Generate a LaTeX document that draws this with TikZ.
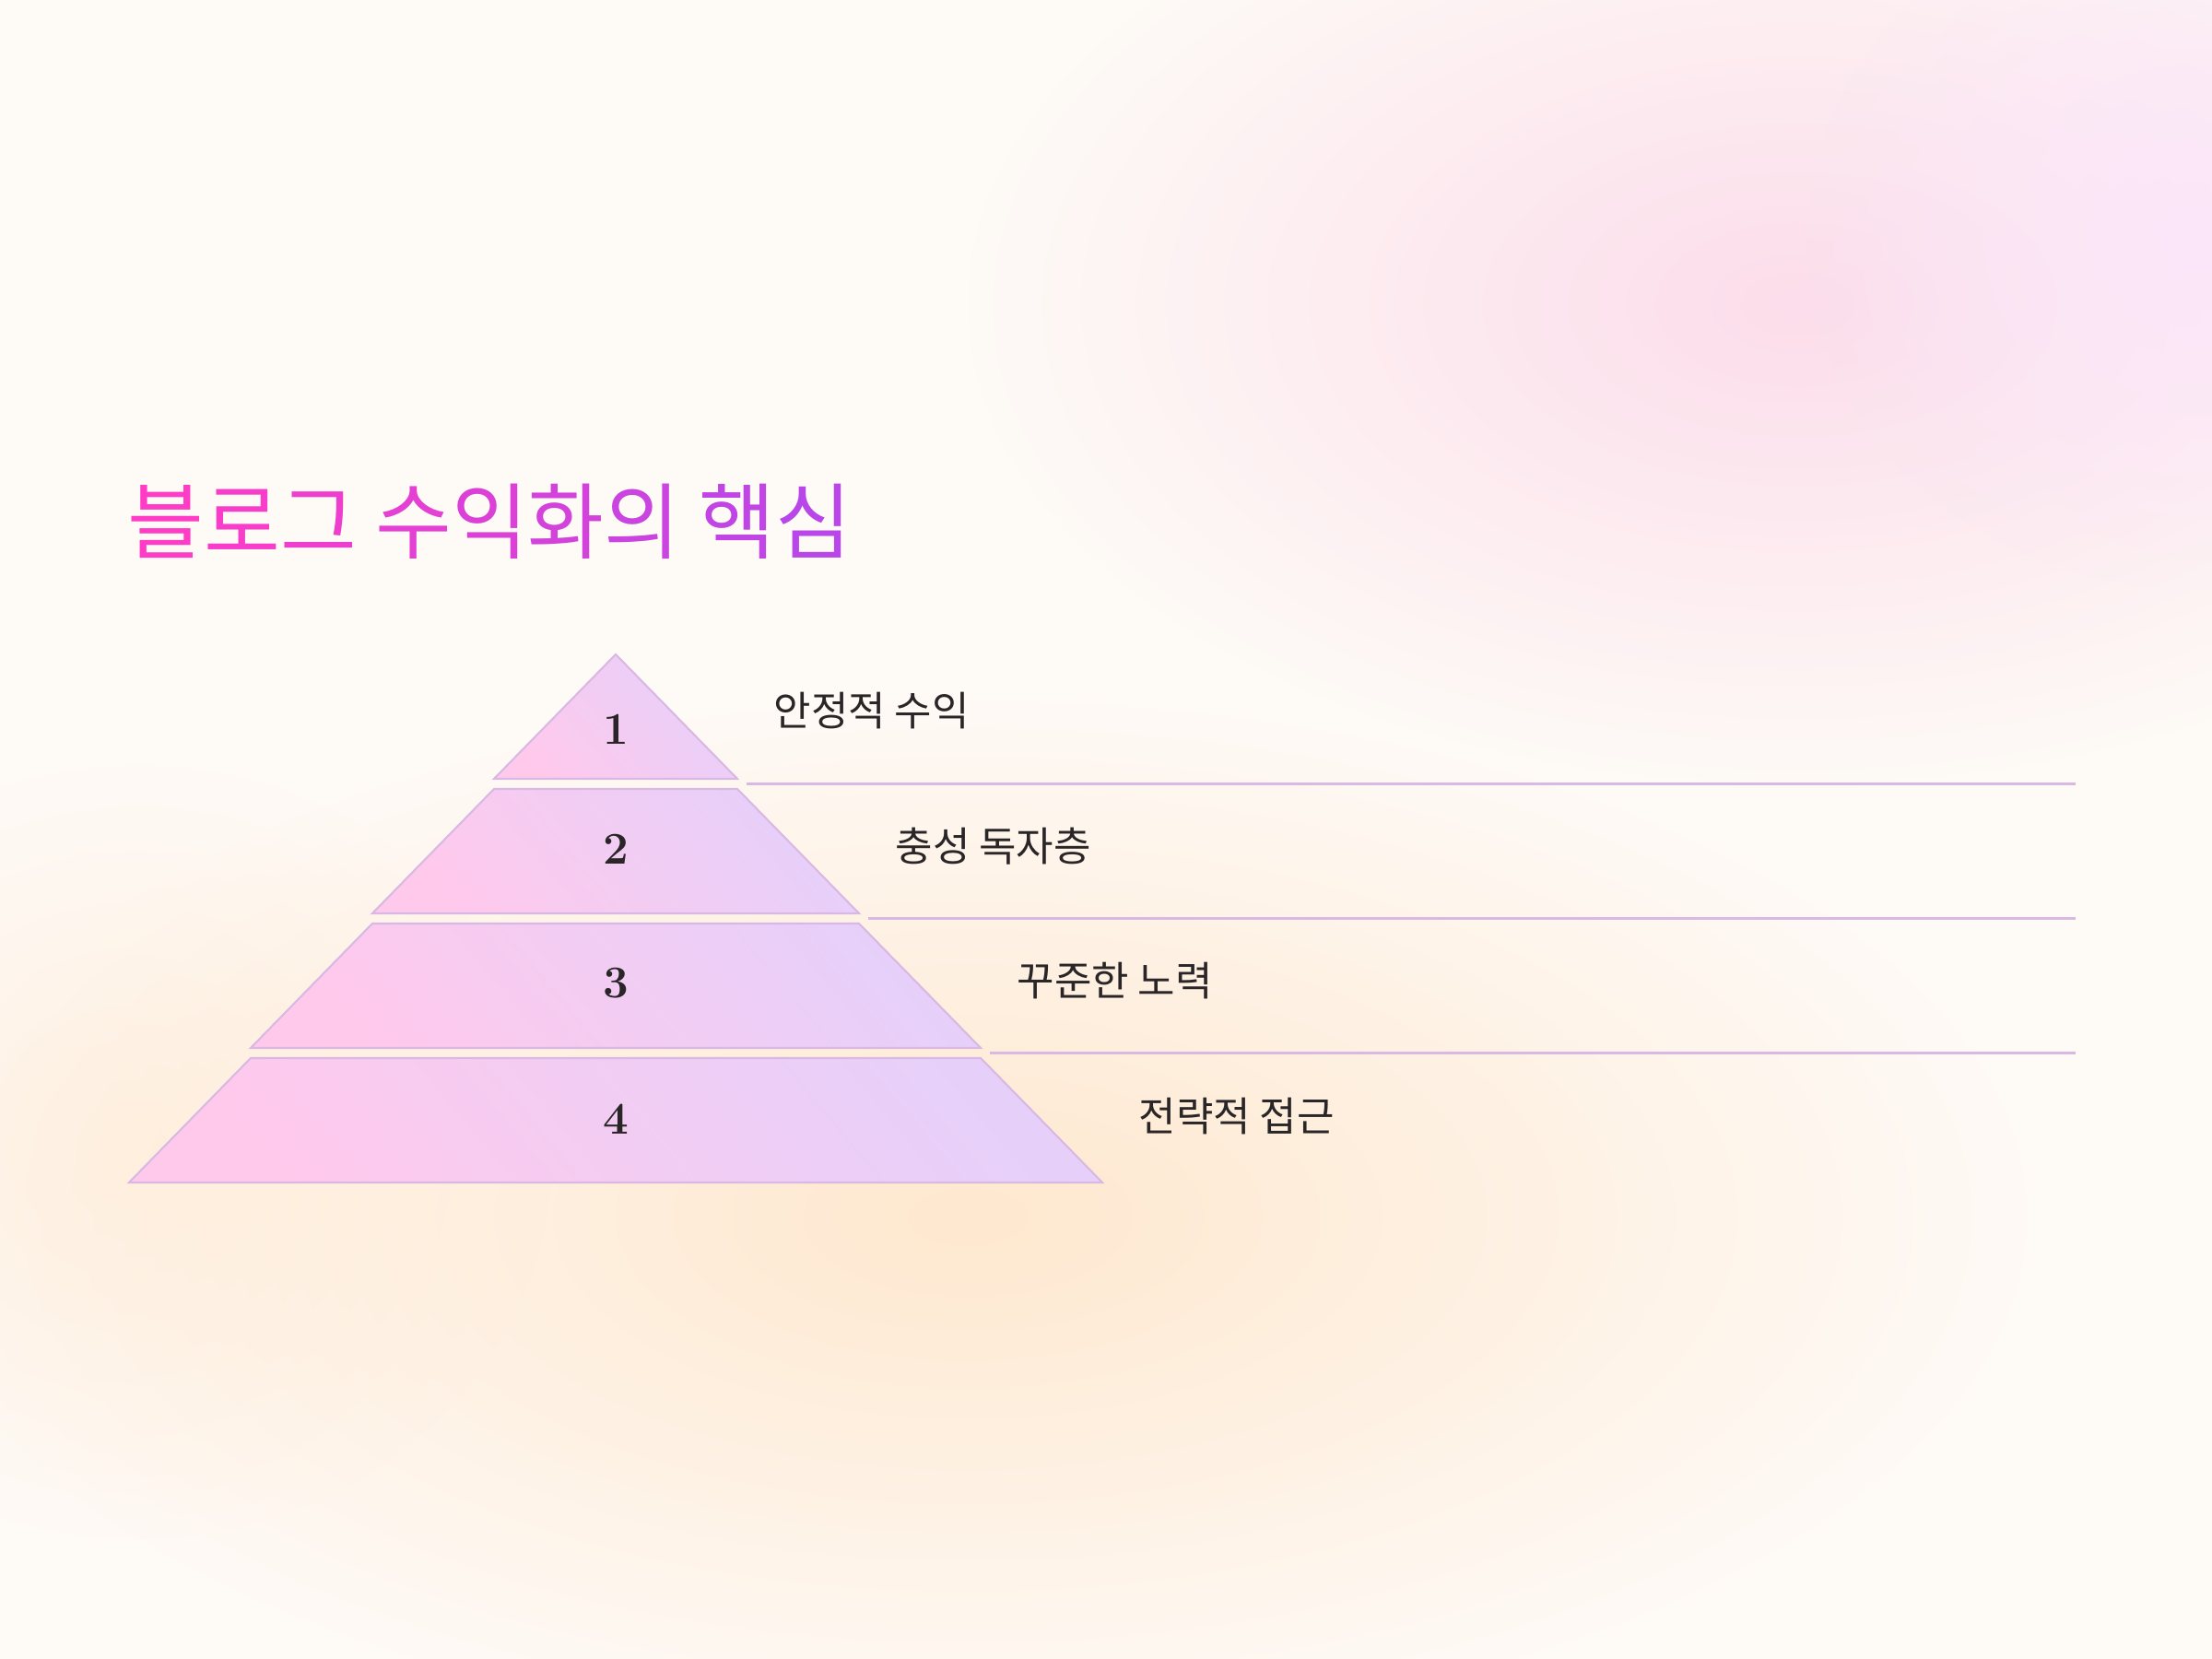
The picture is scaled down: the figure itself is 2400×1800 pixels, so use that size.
\documentclass[tikz,border=0pt]{standalone}
\usepackage{fontspec}
\newfontfamily\krfont{Noto Sans CJK KR}
\usetikzlibrary{positioning,fadings}
\definecolor{bgbase}{HTML}{FEFAF6}
\definecolor{bgpink}{HTML}{FCDDEB}
\definecolor{bglilac}{HTML}{FBE6FA}
\definecolor{bgpeach}{HTML}{FFE8CF}
\definecolor{ttlpink}{HTML}{FF3CC6}
\definecolor{ttlpurple}{HTML}{B946E8}
\definecolor{tierpink}{HTML}{FFC9EC}
\definecolor{tierlav}{HTML}{E6D0FA}
\definecolor{tierline}{HTML}{D9B9E3}
\definecolor{inkdark}{HTML}{2A2628}
\tikzfading[name=softblob, inner color=transparent!0, outer color=transparent!100]
\newcommand{\tch}[2]{{\color{ttlpurple!#1!ttlpink}#2}}

\begin{document}
\begin{tikzpicture}[x=0.01cm, y=-0.01cm,
  numlbl/.style={text=inkdark, font=\fontsize{14}{16}\selectfont\bfseries},
  steplbl/.style={text=inkdark, anchor=west, inner sep=0pt, font=\krfont\fontsize{12.5}{15}\selectfont},
  tierbox/.style={draw=tierline, line width=0.6pt, top color=tierlav, bottom color=tierpink, shading angle=-50},
  divline/.style={draw=tierline, line width=0.6pt}]
\useasboundingbox (0,0) rectangle (2400,1800);
% background
\begin{scope}
\clip (0,0) rectangle (2400,1800);
\fill[bgbase] (0,0) rectangle (2400,1800);
\fill[bgpeach, path fading=softblob] (1050,1320) ellipse (1150 and 560);
\fill[bgpeach, path fading=softblob, opacity=0.5] (150,1250) ellipse (450 and 420);
\fill[bgpink, path fading=softblob] (1950,330) ellipse (900 and 520);
\fill[bglilac, path fading=softblob] (2380,260) ellipse (420 and 380);
\end{scope}

% title
\node[anchor=west, inner sep=0pt, font=\krfont\fontsize{25.6}{30}\selectfont] (title) at (138,566)
  {\tch{0}{블}\tch{12}{로}\tch{24}{그} \tch{39}{수}\tch{51}{익}\tch{63}{화}\tch{75}{의} \tch{90}{핵}\tch{100}{심}};

% pyramid
\draw[tierbox] (668,710) -- (800,845) -- (536,845) -- cycle;
\draw[tierbox] (536,856) -- (800,856) -- (932,991) -- (404,991) -- cycle;
\draw[tierbox] (404,1002) -- (932,1002) -- (1064,1137) -- (272,1137) -- cycle;
\draw[tierbox] (272,1148) -- (1064,1148) -- (1196,1283) -- (140,1283) -- cycle;

\node[numlbl] (n1) at (668,791) {1};
\node[numlbl] (n2) at (668,921) {2};
\node[numlbl] (n3) at (668,1067) {3};
\node[numlbl] (n4) at (668,1214) {4};

% dividers
\coordinate (d1a) at (810,850.5);
\coordinate (d1b) at (2252,850.5);
\coordinate (d2a) at (942,996.5);
\coordinate (d2b) at (2252,996.5);
\coordinate (d3a) at (1074,1142.5);
\coordinate (d3b) at (2252,1142.5);
\draw[divline] (d1a) -- (d1b);
\draw[divline] (d2a) -- (d2b);
\draw[divline] (d3a) -- (d3b);

% labels
\node[steplbl] (s1) at (839,771) {안정적 수익};
\node[steplbl] (s2) at (971,918) {충성 독자층};
\node[steplbl] (s3) at (1103,1064) {꾸준한 노력};
\node[steplbl] (s4) at (1235,1211) {전략적 접근};
\end{tikzpicture}
\end{document}
